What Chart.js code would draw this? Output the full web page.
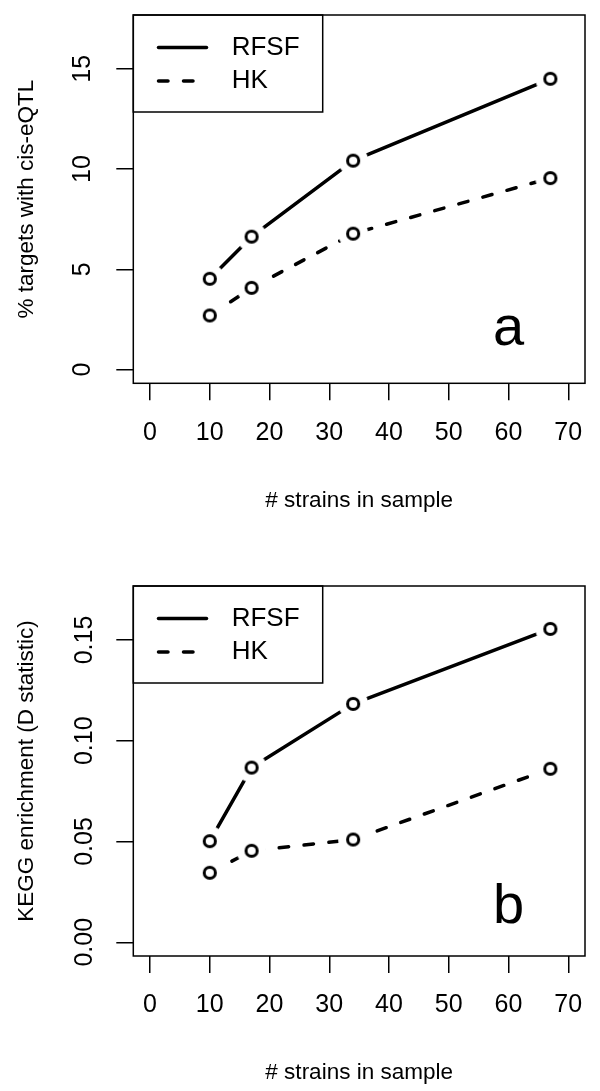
<!DOCTYPE html>
<html>
<head>
<meta charset="utf-8">
<script src="https://cdn.jsdelivr.net/npm/chart.js@4.4.1/dist/chart.umd.min.js"></script>
<style>
  html, body { margin: 0; padding: 0; background: #fff; }
  body { width: 600px; height: 1091px; position: relative; overflow: hidden; }
  .panel { position: absolute; left: 0; width: 600px; }
  canvas { display: block; }
</style>
</head>
<body>
<div class="panel" style="top:0;height:520px"><canvas id="chartA" width="600" height="520"></canvas></div>
<div class="panel" style="top:540px;height:551px"><canvas id="chartB" width="600" height="551"></canvas></div>
<script>
// number of strains in the sample
const strains = [10, 17, 34, 67];

// panel a: % targets with cis-eQTL
const rfsfCis = [4.53, 6.63, 10.42, 14.5];
const hkCis = [2.7, 4.08, 6.78, 9.55];

// panel b: KEGG enrichment (D statistic)
const rfsfKegg = [0.0502, 0.0867, 0.1183, 0.1555];
const hkKegg = [0.0345, 0.0454, 0.051, 0.0861];

const seriesNames = ['RFSF', 'HK'];

const xTicks = [0, 10, 20, 30, 40, 50, 60, 70];
const xTickLabels = ['0', '10', '20', '30', '40', '50', '60', '70'];
const cisTicks = [0, 5, 10, 15];
const cisTickLabels = ['0', '5', '10', '15'];
const keggTicks = [0, 0.05, 0.1, 0.15];
const keggTickLabels = ['0.00', '0.05', '0.10', '0.15'];

const FONT = "'Liberation Sans', Arial, Helvetica, sans-serif";
Chart.defaults.font.family = FONT;
Chart.defaults.color = '#000';

// R style axis range: data limits plus 4% on each side
function rRange(lo, hi) {
  const d = (hi - lo) * 0.04;
  return [lo - d, hi + d];
}

// open circle with a white halo so the line stops short of it (like type="b")
function makeMarker() {
  const c = document.createElement('canvas');
  c.width = 34; c.height = 34;
  const g = c.getContext('2d');
  g.fillStyle = '#fff';
  g.beginPath(); g.arc(17, 17, 15, 0, Math.PI * 2); g.fill();
  g.strokeStyle = '#000';
  g.lineWidth = 3;
  g.beginPath(); g.arc(17, 17, 5.6, 0, Math.PI * 2); g.stroke();
  return c;
}
const marker = makeMarker();

const dashHK = [9.5, 15.5];

// box round the plot, legend, and panel letter
const framePlugin = {
  id: 'frame',
  afterDatasetsDraw(chart, args, opts) {
    const { ctx, chartArea: a, scales } = chart;
    ctx.save();
    ctx.strokeStyle = '#000';
    ctx.fillStyle = '#000';
    ctx.lineWidth = 1.5;
    ctx.strokeRect(a.left, a.top, a.right - a.left, a.bottom - a.top);

    // legend box
    const lx = a.left, ly = a.top;
    ctx.strokeRect(lx, ly, 189.4, 97);
    chart.data.datasets.forEach((ds, i) => {
      const y = ly + 32.5 + i * 33.5;
      ctx.beginPath();
      ctx.lineWidth = 3.5;
      ctx.lineCap = 'round';
      ctx.setLineDash(ds.borderDash || []);
      ctx.moveTo(lx + 25.2, y);
      ctx.lineTo(lx + 73.2, y);
      ctx.stroke();
      ctx.setLineDash([]);
      ctx.font = '26px ' + FONT;
      ctx.textAlign = 'left';
      ctx.textBaseline = 'middle';
      ctx.fillText(ds.label, lx + 98.4, y);
    });

    ctx.font = '56px ' + FONT;
    ctx.textAlign = 'center';
    ctx.textBaseline = 'alphabetic';
    ctx.fillText(opts.letter,
      scales.x.getPixelForValue(opts.letterAt[0]),
      scales.y.getPixelForValue(opts.letterAt[1]));
    ctx.restore();
  }
};

function makePanel(id, p) {
  const xr = rRange(0, 70);
  const yr = rRange(0, p.yTop);
  new Chart(document.getElementById(id), {
    type: 'line',
    data: {
      labels: strains,
      datasets: [
        {
          label: seriesNames[0],
          data: strains.map((s, i) => ({ x: s, y: p.rfsf[i] })),
          borderColor: '#000',
          borderWidth: 3.5,
          borderCapStyle: 'round',
          borderJoinStyle: 'round',
          pointStyle: marker,
          pointRadius: 6,
          tension: 0,
          fill: false
        },
        {
          label: seriesNames[1],
          data: strains.map((s, i) => ({ x: s, y: p.hk[i] })),
          borderColor: '#000',
          borderWidth: 3.5,
          borderDash: dashHK,
          borderCapStyle: 'round',
          borderJoinStyle: 'round',
          pointStyle: marker,
          pointRadius: 6,
          tension: 0,
          fill: false
        }
      ]
    },
    options: {
      responsive: false,
      animation: false,
      devicePixelRatio: 1,
      events: [],
      layout: { padding: { top: p.top, right: 15, left: 0, bottom: 0 } },
      plugins: {
        legend: { display: false },
        tooltip: { enabled: false },
        frame: { letter: p.letter, letterAt: p.letterAt }
      },
      scales: {
        x: {
          type: 'linear',
          min: xr[0],
          max: xr[1],
          afterBuildTicks: s => { s.ticks = xTicks.map(v => ({ value: v })); },
          afterFit: s => { s.height = p.xAxisH; s.paddingLeft = 0; s.paddingRight = 0; },
          grid: { display: true, drawOnChartArea: false, drawTicks: true, tickLength: 17, color: '#000', lineWidth: 1.5 },
          border: { display: false },
          ticks: {
            padding: 17.5,
            maxRotation: 0,
            autoSkip: false,
            font: { size: 25 },
            callback: (v, i) => xTickLabels[i]
          },
          title: {
            display: true,
            text: '# strains in sample',
            font: { size: 22.5 },
            padding: { top: 0, bottom: p.xAxisH - 117 - 13.5 }
          }
        },
        y: {
          type: 'linear',
          min: yr[0],
          max: yr[1],
          afterBuildTicks: s => { s.ticks = p.yTicks.map(v => ({ value: v })); },
          afterFit: s => { s.width = 133.3; s.paddingTop = 0; s.paddingBottom = 0; },
          grid: { display: true, drawOnChartArea: false, drawTicks: true, tickLength: 17, color: '#000', lineWidth: 1.5 },
          border: { display: false },
          ticks: {
            padding: p.yTickPad,
            minRotation: 90,
            maxRotation: 90,
            crossAlign: 'center',
            autoSkip: false,
            font: { size: 25 },
            callback: (v, i) => p.yTickLabels[i]
          },
          title: {
            display: true,
            text: p.yTitle,
            font: { size: 22.5 },
            padding: { top: 13.5, bottom: 0 }
          }
        }
      }
    },
    plugins: [framePlugin]
  });
}

makePanel('chartA', {
  rfsf: rfsfCis, hk: hkCis, yTop: 17,
  yTicks: cisTicks, yTickLabels: cisTickLabels,
  yTitle: '% targets with cis-eQTL',
  top: 15, xAxisH: 136.7, yTickPad: 19.5,
  letter: 'a', letterAt: [60, 1.25]
});

makePanel('chartB', {
  rfsf: rfsfKegg, hk: hkKegg, yTop: 0.17,
  yTicks: keggTicks, yTickLabels: keggTickLabels,
  yTitle: 'KEGG enrichment (D statistic)',
  top: 46, xAxisH: 135, yTickPad: 6.5,
  letter: 'b', letterAt: [60, 0.0095]
});
</script>
</body>
</html>
